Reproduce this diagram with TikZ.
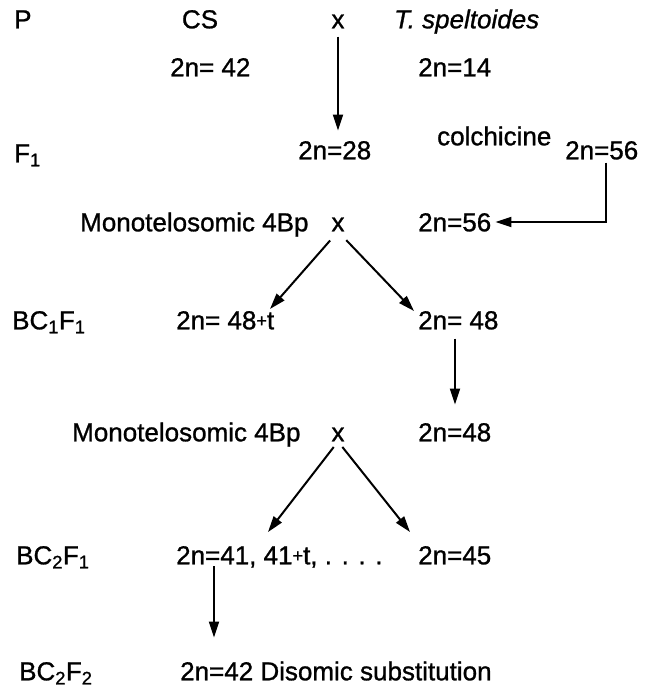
\documentclass[tikz,border=0pt]{standalone}
\usepackage{fontspec}
\setmainfont[FakeBold=1]{Liberation Sans}
\usetikzlibrary{arrows.meta}
% the small raised plus sign used in "48+t" and "41+t"
\newcommand{\smallplus}{\raisebox{2.5pt}{\fontsize{18}{20}\selectfont+}}
\begin{document}
\begin{tikzpicture}[x=1pt,y=-1pt,
  lbl/.style={inner sep=0pt, anchor=west, text height=18.6pt, text depth=0pt,
              font=\fontsize{26}{30}\selectfont},
  cross/.style={lbl, anchor=center},
  arr/.style={line width=2pt, -{Triangle[length=16pt,width=10pt]}},
]
\useasboundingbox (0,0) rectangle (645,688);

% generation labels
\node[lbl] (P)     at (14,19)  {P};
\node[lbl] (F1)    at (14,153) {F\textsubscript{1}};
\node[lbl] (bc1)   at (12,320) {BC\textsubscript{1}F\textsubscript{1}};
\node[lbl] (bc2f1) at (16,555) {BC\textsubscript{2}F\textsubscript{1}};
\node[lbl] (bc2f2) at (19,671) {BC\textsubscript{2}F\textsubscript{2}};

% parents
\node[cross] (CS)  at (200,19) {CS};
\node[cross] (x1)  at (338,19) {x};
\node[lbl]   (Tsp) at (394,19) {\textit{T. speltoides}};
\node[lbl]   (n42) at (170,67) {2n= 42};
\node[lbl]   (n14) at (418,67) {2n=14};

% F1 and doubling
\node[lbl] (n28)   at (298,150) {2n=28};
\node[lbl] (colch) at (437,136) {colchicine};
\node[lbl] (n56a)  at (565,150) {2n=56};

% first backcross
\node[lbl]   (mono1) at (80,222)  {Monotelosomic 4Bp};
\node[cross] (x2)    at (338,222) {x};
\node[lbl]   (n56b)  at (418,222) {2n=56};
\node[lbl]   (n48t)  at (176,320) {2n= 48\smallplus t};
\node[lbl]   (n48a)  at (418,320) {2n= 48};

% second backcross
\node[lbl]   (mono2) at (72,432)  {Monotelosomic 4Bp};
\node[cross] (x3)    at (338,432) {x};
\node[lbl]   (n48b)  at (418,432) {2n=48};
\node[lbl]   (n41)   at (176,555) {2n=41, 41\smallplus t, . . . .};
\node[lbl]   (n45)   at (418,555) {2n=45};
\node[lbl]   (n42b)  at (180,671) {2n=42 Disomic substitution};

% arrow end points
\coordinate (v1l) at (270,309);
\coordinate (v1r) at (414,311);
\coordinate (v2l) at (268,532);
\coordinate (v2r) at (410,532);
\coordinate (d1)  at (214,566);

% connectors
\draw[arr, shorten <=8pt, shorten >=10pt] (x1.south) -- (x1.south |- n28.north);
\draw[arr, shorten <=3pt, shorten >=4pt] ([xshift=41pt]n56a.south west) |- (n56b.east);
\draw[arr, shorten <=12pt] (x2.south) -- (v1l);
\draw[arr, shorten <=12pt] (x2.south) -- (v1r);
\draw[arr, shorten <=9pt, shorten >=18pt] ([xshift=37pt]n48a.south west) -- ([xshift=37pt]n48a.south west |- n48b.north);
\draw[arr, shorten <=7pt] (x3.south) -- (v2l);
\draw[arr, shorten <=7pt] (x3.south) -- (v2r);
\draw[arr, shorten >=24pt] (d1) -- (d1 |- n42b.north);
\end{tikzpicture}
\end{document}
